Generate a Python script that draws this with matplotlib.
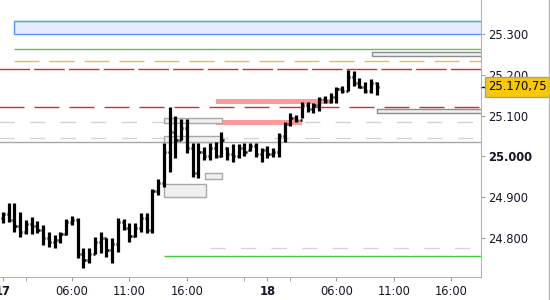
import numpy as np
import matplotlib
matplotlib.use("Agg")
from matplotlib import pyplot as plt
from matplotlib.lines import Line2D

# barras de 30 min (indice da barra no eixo x)
maximas = [24864, 24886, 24886, 24864, 24844, 24852, 24842, 24832, 24815, 24807,
           24815, 24847, 24854, 24849, 24776, 24776, 24802, 24815, 24800, 24800,
           24849, 24847, 24837, 24837, 24861, 24861, 24920, 24945, 25033, 25121,
           25099, 25092, 25092, 25033, 25033, 25023, 25033, 25035, 25060, 25023,
           25030, 25030, 25033, 25033, 25033, 25021, 25026, 25021, 25057, 25084,
           25106, 25102, 25133, 25133, 25131, 25146, 25148, 25155, 25170, 25173,
           25212, 25209, 25192, 25182, 25190, 25182]
minimas = [24837, 24839, 24815, 24802, 24810, 24810, 24812, 24783, 24778, 24776,
           24788, 24807, 24832, 24751, 24727, 24739, 24761, 24763, 24753, 24739,
           24766, 24820, 24790, 24802, 24815, 24812, 24812, 24905, 24925, 24962,
           24996, 25040, 25008, 24950, 24947, 24991, 24991, 24996, 24999, 24991,
           24986, 24996, 25001, 25013, 24999, 24986, 24996, 24999, 24999, 25035,
           25075, 25084, 25094, 25109, 25106, 25111, 25131, 25131, 25131, 25155,
           25160, 25173, 25168, 25155, 25155, 25150]
aberturas = [24850, 24860, 24845, 24830, 24815, 24835, 24830, 24820, 24800, 24790,
             24795, 24810, 24840, 24845, 24760, 24745, 24760, 24790, 24800, 24770,
             24785, 24840, 24825, 24805, 24825, 24850, 24820, 24915, 24935, 25010,
             25060, 25040, 25070, 25020, 24960, 25010, 25000, 25020, 25000, 25020,
             25005, 25000, 25020, 25015, 25025, 25005, 25015, 25005, 25010, 25050,
             25080, 25095, 25090, 25125, 25115, 25125, 25140, 25135, 25145, 25165,
             25160, 25195, 25180, 25170, 25160, 25180]
fechamentos = [24860, 24845, 24830, 24815, 24835, 24830, 24820, 24800, 24790, 24795,
               24810, 24840, 24845, 24760, 24745, 24760, 24790, 24800, 24770, 24785,
               24840, 24825, 24805, 24825, 24850, 24820, 24915, 24935, 25010, 25060,
               25040, 25070, 25020, 24960, 25010, 25000, 25020, 25000, 25040, 25005,
               25000, 25020, 25010, 25025, 25005, 25015, 25005, 25010, 25050, 25080,
               25095, 25090, 25125, 25115, 25125, 25140, 25135, 25145, 25165, 25160,
               25195, 25180, 25170, 25160, 25180, 25170.75]
ultimo_preco = 25170.75

# eixo de tempo
pos_ticks = [0, 12, 22, 32, 46, 58, 68, 78]
rotulos_ticks = ['17', '06:00', '11:00', '16:00', '18', '06:00', '11:00', '16:00']
pos_ticks_menores = [4, 42, 50]
precos_ticks = [24800, 24900, 25000, 25100, 25200, 25300]

# niveis horizontais: (preco, inicio em barras, cor, estilo)
niveis = [
    (25262.5, 1.9, '#5cc25c', None),
    (25233, 1.9, '#f5b840', (18, 7.2)),
    (25213, -1, '#e02828', (22, 3)),
    (25122, -1, '#e02828', (18, 7.2)),
    (25083.5, -1, '#d4d4d4', (11, 11)),
    (25045, -1, '#d4d4d4', (11, 11)),
    (25034.5, -1, '#a8a8a8', None),
    (24775.5, 36, '#d4d4d4', (11, 11)),
    (24756, 28, '#44c844', None),
]

# caixas cinzas: (x0, x1, y0, y1)
caixas_cinza = [
    (28.0, 38.1, 25082, 25094),
    (28.0, 38.1, 25035, 25050),
    (35.1, 38.1, 24945, 24959),
    (28.0, 35.3, 24900, 24932),
    (64.2, 84.0, 25246, 25256),
    (65.0, 84.0, 25106, 25116),
]
# faixas vermelhas
faixas = [
    (37.0, 57.2, 25128, 25140.5),
    (37.0, 52.0, 25077, 25089),
]
# zona azul
zona_azul = (1.9, 84.0, 25300, 25332)

plt.rcParams['lines.scale_dashes'] = False
fig = plt.figure(figsize=(5.5, 3), dpi=100)
ax = fig.add_axes([0, 1 - 277 / 300, 481 / 550, 277 / 300])
xmax = (481 - 3) / 5.75
ax.set_xlim(-3 / 5.75, xmax)
ax.set_ylim(24704.4, 25383.3)

x0, x1, y0, y1 = zona_azul
ax.add_patch(plt.Rectangle((x0, y0), x1 - x0, y1 - y0, facecolor='#e5ecfd',
                           edgecolor='#5a96f2', lw=1, zorder=1))
ax.hlines(y1, x0, x1, color='#5cc25c', lw=1, zorder=2)

for preco, ini, cor, traco in niveis:
    l = ax.hlines(preco, ini, 84, color=cor, lw=1, zorder=2)
    if traco:
        l.set_linestyle((0, traco))

for x0, x1, y0, y1 in faixas:
    ax.add_patch(plt.Rectangle((x0, y0), x1 - x0, y1 - y0, facecolor='#ff9a9a',
                               edgecolor='none', zorder=3))

for x0, x1, y0, y1 in caixas_cinza:
    borda = '#8c8c8c' if x0 > 60 else '#a8a8a8'
    ax.add_patch(plt.Rectangle((x0, y0), x1 - x0, y1 - y0, facecolor='#f0f0f0',
                               edgecolor=borda, lw=1, zorder=3))

idx = np.arange(len(maximas))
ax.vlines(idx, minimas, maximas, color='black', lw=2.3, zorder=5)
ax.hlines(aberturas, idx - 0.38, idx, color='black', lw=1.8, zorder=5)
ax.hlines(fechamentos, idx, idx + 0.38, color='black', lw=1.8, zorder=5)

# eixos
for s in ['top', 'left']:
    ax.spines[s].set_visible(False)
ax.spines['right'].set_color('#b4b4b4')
ax.spines['bottom'].set_color('#b4b4b4')
ax.yaxis.tick_right()
ax.set_yticks(precos_ticks)
ax.set_yticklabels([f'{p:,}'.replace(',', '.') for p in precos_ticks])
ax.set_xticks(pos_ticks)
ax.set_xticklabels(rotulos_ticks)
ax.set_xticks(pos_ticks_menores, minor=True)
ax.tick_params(axis='both', which='both', direction='out', length=3, color='#a0a0a0',
               labelsize=8.3, labelcolor='#141428')
ax.tick_params(axis='y', pad=2)
ax.tick_params(axis='x', pad=3)
for t in ax.get_yticklabels():
    if t.get_text() == '25.000':
        t.set_fontweight('bold')
for t in ax.get_xticklabels():
    if t.get_text() in ('17', '18'):
        t.set_fontweight('bold')

# preco atual
ax.plot([xmax, xmax + 0.7], [ultimo_preco, ultimo_preco], color='black', lw=1, clip_on=False)
ax.text(1.015, ultimo_preco, '25.170,75', transform=ax.get_yaxis_transform(),
        va='center', ha='left', fontsize=8.3, color='black', zorder=10,
        bbox=dict(boxstyle='square,pad=0.3', facecolor='#f8c800', edgecolor='#a0a0a0', lw=1))

fig.add_artist(Line2D([0.998, 0.998], [0, 1], color='#b4b4b4', lw=1))

fig.savefig('out.png', dpi=100)
